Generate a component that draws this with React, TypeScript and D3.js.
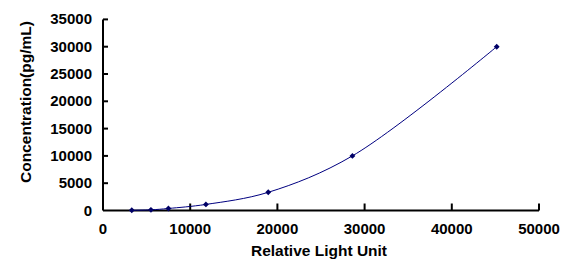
import { useEffect, useRef } from 'react';
import * as d3 from 'd3';

// standard curve points
const rlu = [3300, 5500, 7500, 11800, 18950, 28600, 45150];
const conc = [41, 123, 370, 1111, 3333, 10000, 30000];
const xTicks = [0, 10000, 20000, 30000, 40000, 50000];
const yTicks = [0, 5000, 10000, 15000, 20000, 25000, 30000, 35000];

export default function App() {
  const svgRef = useRef<SVGSVGElement>(null);

  useEffect(() => {
    document.body.style.margin = '0';
    const W = 566;
    const H = 268;
    const svg = d3.select(svgRef.current);
    svg.selectAll('*').remove();
    svg.attr('width', W).attr('height', H);

    const x = d3.scaleLinear().domain([0, 50000]).range([103, 539]);
    const y = d3.scaleLinear().domain([0, 35000]).range([210.5, 19.4]);
    const font = '"Liberation Sans", Arial, sans-serif';
    const ink = '#000';
    const navy = '#000080';

    svg.append('rect').attr('width', W).attr('height', H).attr('fill', '#fff');

    // axes
    const ax = svg.append('g').attr('stroke', ink).attr('stroke-width', 2).attr('fill', 'none');
    ax.append('line').attr('x1', x(0)).attr('x2', x(50000)).attr('y1', y(0)).attr('y2', y(0));
    ax.append('line').attr('x1', x(0)).attr('x2', x(0)).attr('y1', y(0)).attr('y2', y(35000));

    xTicks.slice(1).forEach((t) => {
      ax.append('line').attr('x1', x(t)).attr('x2', x(t)).attr('y1', y(0)).attr('y2', y(0) - 7);
    });
    yTicks.slice(1).forEach((t) => {
      ax.append('line').attr('x1', x(0)).attr('x2', x(0) + 5).attr('y1', y(t)).attr('y2', y(t));
    });

    // tick labels
    svg
      .append('g')
      .selectAll('text')
      .data(xTicks)
      .enter()
      .append('text')
      .attr('x', (d) => x(d))
      .attr('y', 234)
      .attr('text-anchor', 'middle')
      .style('font-family', font)
      .style('font-weight', 'bold')
      .style('font-size', '15px')
      .attr('fill', ink)
      .text((d) => d);

    svg
      .append('g')
      .selectAll('text')
      .data(yTicks)
      .enter()
      .append('text')
      .attr('x', 92)
      .attr('y', (d) => y(d) + 5)
      .attr('text-anchor', 'end')
      .style('font-family', font)
      .style('font-weight', 'bold')
      .style('font-size', '15px')
      .attr('fill', ink)
      .text((d) => d);

    // axis titles
    svg
      .append('text')
      .attr('x', 319)
      .attr('y', 256)
      .attr('text-anchor', 'middle')
      .style('font-family', font)
      .style('font-weight', 'bold')
      .style('font-size', '15.5px')
      .attr('fill', ink)
      .text('Relative Light Unit');

    svg
      .append('text')
      .attr('transform', `translate(31,102) rotate(-90)`)
      .attr('text-anchor', 'middle')
      .style('font-family', font)
      .style('font-weight', 'bold')
      .style('font-size', '15.5px')
      .attr('fill', ink)
      .text('Concentration(pg/mL)');

    // fitted curve
    const pts = rlu.map((r, i) => [r, conc[i]] as [number, number]);
    const line = d3
      .line<[number, number]>()
      .x((d) => x(d[0]))
      .y((d) => y(d[1]))
      .curve(d3.curveCatmullRom.alpha(0.5));
    svg.append('path').attr('d', line(pts)).attr('fill', 'none').attr('stroke', navy).attr('stroke-width', 1);

    // markers
    const diamond = d3.symbol().type(d3.symbolDiamond2).size(22);
    svg
      .append('g')
      .selectAll('path')
      .data(pts)
      .enter()
      .append('path')
      .attr('d', diamond)
      .attr('transform', (d) => `translate(${x(d[0])},${y(d[1])})`)
      .attr('fill', '#000066');
  }, []);

  return <svg ref={svgRef}></svg>;
}
